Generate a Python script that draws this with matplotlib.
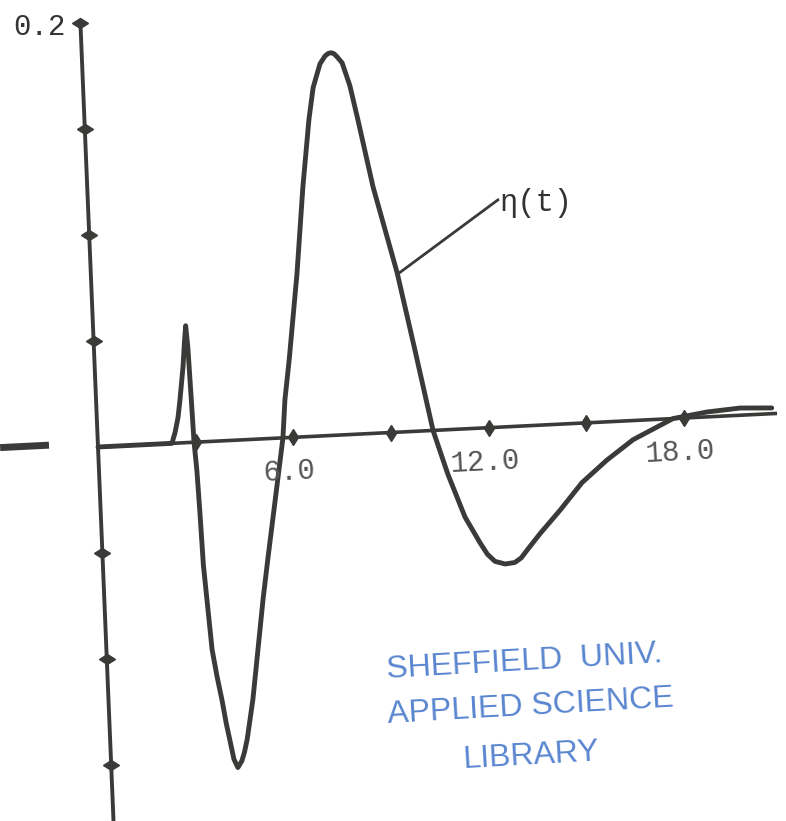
import numpy as np
import matplotlib
matplotlib.use("Agg")
import matplotlib.pyplot as plt
from matplotlib.transforms import Affine2D
from matplotlib.markers import MarkerStyle

# curve: time t and response n(t)
t = [0, 2.27, 2.38, 2.49, 2.57, 2.71, 2.78, 2.84, 2.88, 2.92, 2.95, 3.0, 3.04, 3.08, 3.15,
     3.24, 3.36, 3.48, 3.58, 3.67, 3.77, 3.88, 4.01, 4.10, 4.20, 4.31, 4.43, 4.65, 4.87,
     5.07, 5.68, 5.79, 5.97, 6.32, 6.61, 6.88, 7.05, 7.29, 7.45, 7.55, 7.64, 7.73, 7.82,
     7.97, 8.18, 8.38, 8.76, 9.39, 9.84, 10.29, 10.48, 10.69, 11.16, 11.59, 11.80, 12.02,
     12.33, 12.63, 12.83, 13.02, 13.44, 14.08, 14.79, 15.58, 16.41, 17.16, 17.66, 18.71,
     19.73, 20.7]
n = [0, 0, 0.005, 0.012, 0.020, 0.036, 0.047, 0.055, 0.045, 0.020, 0, -0.013, -0.033,
     -0.058, -0.0755, -0.098, -0.111, -0.122, -0.133, -0.141, -0.150, -0.154, -0.151,
     -0.147, -0.141, -0.132, -0.122, -0.0985, -0.075, -0.056, 0, 0.018, 0.0365, 0.077,
     0.1175, 0.149, 0.164, 0.175, 0.1785, 0.1797, 0.180, 0.1795, 0.178, 0.175, 0.164,
     0.148, 0.116, 0.075, 0.038, 0, -0.010, -0.021, -0.0415, -0.054, -0.0595, -0.063,
     -0.0645, -0.064, -0.062, -0.0585, -0.051, -0.0405, -0.028, -0.018, -0.009, -0.0036,
     0, 0.0023, 0.0034, 0.0027]

x_ticks = [3, 6, 9, 12, 15, 18]
x_labels = ["6.0", "12.0", "18.0"]
x_label_pos = [6, 12, 18]
y_ticks = [-0.15, -0.1, -0.05, 0.05, 0.1, 0.15, 0.2]
t_max = 20.8
n_min, n_max = -0.19, 0.2

ink = "#3a3a38"
stamp_blue = "#5a86d0"

fig = plt.figure(figsize=(7.86, 8.21), dpi=100)
ax = fig.add_axes([0, 0, 1, 1])
ax.set_xlim(0, 786)
ax.set_ylim(821, 0)
ax.axis("off")

# the scanned page is a bit skewed, so map (t, n) through a sheared frame
tr = Affine2D().from_values(32.56, -1.61, -88, -2122, 98, 447) + ax.transData

# axes lines
ax.plot([0, t_max], [0, 0], color=ink, lw=2.6, transform=tr)
ax.plot([0, 0], [n_min, n_max], color=ink, lw=2.8, transform=tr)
# stray stub of axis left of the origin
ax.plot([-3.0, -1.5], [0.002, 0.002], color=ink, lw=5, solid_capstyle="butt", transform=tr)

# tick marks
ax.plot(x_ticks, [0] * len(x_ticks), ls="none", marker="d", ms=8, color=ink, transform=tr)
ytick_marker = MarkerStyle("d", transform=Affine2D().rotate_deg(90))
ax.plot([0] * len(y_ticks), y_ticks, ls="none", marker=ytick_marker, ms=8, color=ink,
        transform=tr)

# curve
ax.plot(t, n, color=ink, lw=3.5, solid_joinstyle="round", solid_capstyle="round",
        transform=tr)

# labels
for pos, lab in zip(x_label_pos, x_labels):
    ax.text(pos - 0.15, -0.016, lab, transform=tr, ha="center", va="center",
            fontsize=21, family=["Liberation Mono", "DejaVu Sans Mono"],
            color="#555555", rotation=3)
ax.text(-1.25, 0.199, "0.2", transform=tr, ha="center", va="center", fontsize=21,
        family=["Liberation Mono", "DejaVu Sans Mono"], color="#333333")

# curve name with leader line
ax.plot([9.42, 12.57], [0.0745, 0.1069], color=ink, lw=2, transform=tr)
ax.text(12.62, 0.1052, "η(t)", transform=tr, ha="left", va="center", fontsize=22,
        family=["Liberation Mono", "DejaVu Sans Mono"], color="#333333")

# library stamp
stamp_font = ["Liberation Sans", "DejaVu Sans"]
ax.text(524, 662, "SHEFFIELD  UNIV.", ha="center", va="center", fontsize=23,
        family=stamp_font, color=stamp_blue, rotation=3.3)
ax.text(531, 707, "APPLIED SCIENCE", ha="center", va="center", fontsize=23,
        family=stamp_font, color=stamp_blue, rotation=3.3)
ax.text(531, 756, "LIBRARY", ha="center", va="center", fontsize=23,
        family=stamp_font, color=stamp_blue, rotation=3.3)

plt.savefig("out.png", dpi=100)
